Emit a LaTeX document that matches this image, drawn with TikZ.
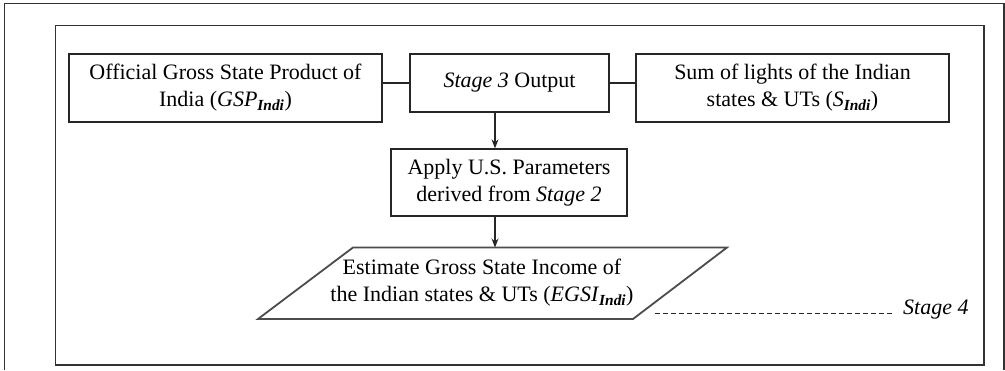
\documentclass[tikz,border=0pt]{standalone}
\usepackage{fontspec}
\setmainfont{Liberation Serif}
\usetikzlibrary{arrows.meta}
\newcommand{\Indi}{\textsubscript{\bfseries\itshape Indi}}
\tikzset{
  frame/.style={draw=black!80, line width=1.3pt},
  flowbox/.style={draw=black!85, line width=1.3pt, align=center, inner sep=0pt,
    font=\fontsize{22}{27}\selectfont},
  link/.style={draw=black!85, line width=1.2pt},
  arr/.style={link, -{Stealth[length=9pt, width=7pt]}},
  txt/.style={align=center, inner sep=0pt, font=\fontsize{22}{27}\selectfont}
}
\begin{document}
\begin{tikzpicture}[x=1pt, y=-1pt]
\useasboundingbox (0,0) rectangle (1005,370);
\fill[white] (0,0) rectangle (1005,370);

% outer and inner frames
\draw[frame] (4.5,370) -- (4.5,3.5) -- (1004,3.5) -- (1004,370);
\draw[frame] (55.5,25.5) rectangle (984,365);

% top row
\node[flowbox, minimum width=313pt, minimum height=68pt] (gsp) at (225.5,88)
  {Official Gross State Product of\\India (\textit{GSP}\Indi)};
\node[flowbox, minimum width=199pt, minimum height=58pt] (s3) at (509.5,83)
  {\textit{Stage 3} Output};
\node[flowbox, minimum width=313pt, minimum height=68pt] (sum) at (792.5,88)
  {Sum of lights of the Indian\\states \& UTs (\textit{S}\Indi)};

% parameter step
\node[flowbox, minimum width=236pt, minimum height=67pt] (ap) at (509,182.5)
  {Apply U.S. Parameters\\derived from \textit{Stage 2}};

% output parallelogram
\coordinate (pTL) at (353,247.5);
\coordinate (pTR) at (727,247.5);
\coordinate (pBR) at (633,319);
\coordinate (pBL) at (258,319);
\draw[frame, draw=black!70, line width=1.8pt] (pTL) -- (pTR) -- (pBR) -- (pBL) -- cycle;
\node[txt] (est) at (482,283)
  {Estimate Gross State Income of\\the Indian states \& UTs (\textit{EGSI}\Indi)};

% connectors
\draw[link] (s3.west) -- (s3.west -| gsp.east);
\draw[link] (s3.east) -- (s3.east -| sum.west);
\coordinate (drop) at (495,83);
\draw[arr] (drop |- s3.south) -- (drop |- ap.north);
\draw[arr] (drop |- ap.south) -- (drop |- pTL);

% stage label
\node[anchor=west, inner sep=0pt, font=\fontsize{22}{27}\selectfont\itshape] (st4) at (903,310) {Stage 4};
\coordinate (dashstart) at (655,313);
\draw[link, line width=1pt, dash pattern=on 5pt off 3pt] (dashstart) -- ([xshift=-10pt]dashstart -| st4.west);
\end{tikzpicture}
\end{document}
